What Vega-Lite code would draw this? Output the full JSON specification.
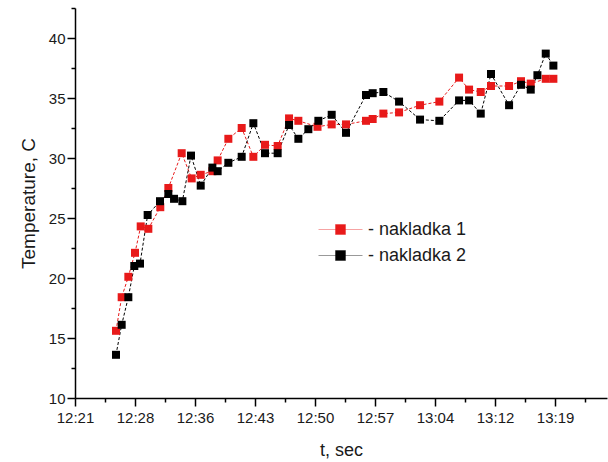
{
  "$schema": "https://vega.github.io/schema/vega-lite/v6.json",
  "width": 532,
  "height": 390,
  "autosize": {"type": "none"},
  "padding": {"left": 75, "top": 8, "right": 1, "bottom": 64},
  "background": "white",
  "config": {
    "view": {"stroke": null},
    "font": "Liberation Sans",
    "axis": {
      "grid": false,
      "domainColor": "#000000",
      "domainWidth": 1.5,
      "tickColor": "#000000",
      "tickWidth": 1.5,
      "labelColor": "#1a1a1a",
      "labelFontSize": 14,
      "labelFont": "Liberation Sans",
      "titleFont": "Liberation Sans",
      "titleFontSize": 17,
      "titleFontWeight": "normal",
      "titleColor": "#1a1a1a"
    }
  },
  "data": {
    "format": {"parse": {"t": "date:'%H:%M:%S'"}},
    "values": [
      {"series": "nakladka 1", "t": "12:26:31", "temp": 15.6},
      {"series": "nakladka 1", "t": "12:27:12", "temp": 18.4},
      {"series": "nakladka 1", "t": "12:28:00", "temp": 20.1},
      {"series": "nakladka 1", "t": "12:28:48", "temp": 22.1},
      {"series": "nakladka 1", "t": "12:29:29", "temp": 24.3},
      {"series": "nakladka 1", "t": "12:30:24", "temp": 24.1},
      {"series": "nakladka 1", "t": "12:31:50", "temp": 25.9},
      {"series": "nakladka 1", "t": "12:32:48", "temp": 27.5},
      {"series": "nakladka 1", "t": "12:34:24", "temp": 30.4},
      {"series": "nakladka 1", "t": "12:35:36", "temp": 28.3},
      {"series": "nakladka 1", "t": "12:36:41", "temp": 28.6},
      {"series": "nakladka 1", "t": "12:38:05", "temp": 28.9},
      {"series": "nakladka 1", "t": "12:38:43", "temp": 29.8},
      {"series": "nakladka 1", "t": "12:40:00", "temp": 31.6},
      {"series": "nakladka 1", "t": "12:41:36", "temp": 32.5},
      {"series": "nakladka 1", "t": "12:43:00", "temp": 30.1},
      {"series": "nakladka 1", "t": "12:44:24", "temp": 31.1},
      {"series": "nakladka 1", "t": "12:45:55", "temp": 31.0},
      {"series": "nakladka 1", "t": "12:47:17", "temp": 33.3},
      {"series": "nakladka 1", "t": "12:48:24", "temp": 33.1},
      {"series": "nakladka 1", "t": "12:50:42", "temp": 32.6},
      {"series": "nakladka 1", "t": "12:52:24", "temp": 32.8},
      {"series": "nakladka 1", "t": "12:54:07", "temp": 32.8},
      {"series": "nakladka 1", "t": "12:56:31", "temp": 33.1},
      {"series": "nakladka 1", "t": "12:57:19", "temp": 33.25},
      {"series": "nakladka 1", "t": "12:58:36", "temp": 33.7},
      {"series": "nakladka 1", "t": "13:00:29", "temp": 33.8},
      {"series": "nakladka 1", "t": "13:03:00", "temp": 34.4},
      {"series": "nakladka 1", "t": "13:05:19", "temp": 34.7},
      {"series": "nakladka 1", "t": "13:07:41", "temp": 36.7},
      {"series": "nakladka 1", "t": "13:08:53", "temp": 35.7},
      {"series": "nakladka 1", "t": "13:10:17", "temp": 35.5},
      {"series": "nakladka 1", "t": "13:11:31", "temp": 36.0},
      {"series": "nakladka 1", "t": "13:13:41", "temp": 36.0},
      {"series": "nakladka 1", "t": "13:15:07", "temp": 36.4},
      {"series": "nakladka 1", "t": "13:16:17", "temp": 36.2},
      {"series": "nakladka 1", "t": "13:18:05", "temp": 36.6},
      {"series": "nakladka 1", "t": "13:19:00", "temp": 36.6},
      {"series": "nakladka 2", "t": "12:26:31", "temp": 13.6},
      {"series": "nakladka 2", "t": "12:27:12", "temp": 16.1},
      {"series": "nakladka 2", "t": "12:28:00", "temp": 18.4},
      {"series": "nakladka 2", "t": "12:28:43", "temp": 21.0},
      {"series": "nakladka 2", "t": "12:29:24", "temp": 21.2},
      {"series": "nakladka 2", "t": "12:30:19", "temp": 25.25},
      {"series": "nakladka 2", "t": "12:31:48", "temp": 26.4},
      {"series": "nakladka 2", "t": "12:32:48", "temp": 27.0},
      {"series": "nakladka 2", "t": "12:33:29", "temp": 26.6},
      {"series": "nakladka 2", "t": "12:34:29", "temp": 26.4},
      {"series": "nakladka 2", "t": "12:35:31", "temp": 30.2},
      {"series": "nakladka 2", "t": "12:36:41", "temp": 27.7},
      {"series": "nakladka 2", "t": "12:38:05", "temp": 29.2},
      {"series": "nakladka 2", "t": "12:38:43", "temp": 28.9},
      {"series": "nakladka 2", "t": "12:40:00", "temp": 29.6},
      {"series": "nakladka 2", "t": "12:41:36", "temp": 30.1},
      {"series": "nakladka 2", "t": "12:43:00", "temp": 32.9},
      {"series": "nakladka 2", "t": "12:44:24", "temp": 30.4},
      {"series": "nakladka 2", "t": "12:45:55", "temp": 30.4},
      {"series": "nakladka 2", "t": "12:47:17", "temp": 32.75},
      {"series": "nakladka 2", "t": "12:48:24", "temp": 31.6},
      {"series": "nakladka 2", "t": "12:49:36", "temp": 32.4},
      {"series": "nakladka 2", "t": "12:50:48", "temp": 33.1},
      {"series": "nakladka 2", "t": "12:52:24", "temp": 33.6},
      {"series": "nakladka 2", "t": "12:54:07", "temp": 32.1},
      {"series": "nakladka 2", "t": "12:56:31", "temp": 35.25},
      {"series": "nakladka 2", "t": "12:57:19", "temp": 35.4},
      {"series": "nakladka 2", "t": "12:58:36", "temp": 35.5},
      {"series": "nakladka 2", "t": "13:00:29", "temp": 34.7},
      {"series": "nakladka 2", "t": "13:03:00", "temp": 33.2},
      {"series": "nakladka 2", "t": "13:05:19", "temp": 33.1},
      {"series": "nakladka 2", "t": "13:07:41", "temp": 34.8},
      {"series": "nakladka 2", "t": "13:08:53", "temp": 34.8},
      {"series": "nakladka 2", "t": "13:10:17", "temp": 33.7},
      {"series": "nakladka 2", "t": "13:11:31", "temp": 37.0},
      {"series": "nakladka 2", "t": "13:13:41", "temp": 34.4},
      {"series": "nakladka 2", "t": "13:15:07", "temp": 36.1},
      {"series": "nakladka 2", "t": "13:16:17", "temp": 35.7},
      {"series": "nakladka 2", "t": "13:17:05", "temp": 36.9},
      {"series": "nakladka 2", "t": "13:18:05", "temp": 38.7},
      {"series": "nakladka 2", "t": "13:19:00", "temp": 37.7}
    ]
  },
  "encoding": {
    "x": {
      "field": "t",
      "type": "temporal",
      "title": "t, sec",
      "scale": {
        "domain": [
          {"year": 1900, "month": 1, "date": 1, "hours": 12, "minutes": 21, "seconds": 36},
          {"year": 1900, "month": 1, "date": 1, "hours": 13, "minutes": 25, "seconds": 26}
        ]
      },
      "axis": {
        "format": "%H:%M",
        "values": [
          {"year": 1900, "month": 1, "date": 1, "hours": 12, "minutes": 21, "seconds": 36},
          {"year": 1900, "month": 1, "date": 1, "hours": 12, "minutes": 25, "seconds": 12},
          {"year": 1900, "month": 1, "date": 1, "hours": 12, "minutes": 28, "seconds": 48},
          {"year": 1900, "month": 1, "date": 1, "hours": 12, "minutes": 32, "seconds": 24},
          {"year": 1900, "month": 1, "date": 1, "hours": 12, "minutes": 36, "seconds": 0},
          {"year": 1900, "month": 1, "date": 1, "hours": 12, "minutes": 39, "seconds": 36},
          {"year": 1900, "month": 1, "date": 1, "hours": 12, "minutes": 43, "seconds": 12},
          {"year": 1900, "month": 1, "date": 1, "hours": 12, "minutes": 46, "seconds": 48},
          {"year": 1900, "month": 1, "date": 1, "hours": 12, "minutes": 50, "seconds": 24},
          {"year": 1900, "month": 1, "date": 1, "hours": 12, "minutes": 54, "seconds": 0},
          {"year": 1900, "month": 1, "date": 1, "hours": 12, "minutes": 57, "seconds": 36},
          {"year": 1900, "month": 1, "date": 1, "hours": 13, "minutes": 1, "seconds": 12},
          {"year": 1900, "month": 1, "date": 1, "hours": 13, "minutes": 4, "seconds": 48},
          {"year": 1900, "month": 1, "date": 1, "hours": 13, "minutes": 8, "seconds": 24},
          {"year": 1900, "month": 1, "date": 1, "hours": 13, "minutes": 12, "seconds": 0},
          {"year": 1900, "month": 1, "date": 1, "hours": 13, "minutes": 15, "seconds": 36},
          {"year": 1900, "month": 1, "date": 1, "hours": 13, "minutes": 19, "seconds": 12},
          {"year": 1900, "month": 1, "date": 1, "hours": 13, "minutes": 22, "seconds": 48}
        ],
        "labelExpr": "round(((hours(datum.value)*3600+minutes(datum.value)*60+seconds(datum.value))-44496)/216) % 2 == 0 ? datum.label : ''",
        "tickSize": {
          "condition": {"test": "round(((hours(datum.value)*3600+minutes(datum.value)*60+seconds(datum.value))-44496)/216) % 2 == 0", "value": 8},
          "value": 4
        },
        "labelFontSize": 15,
        "labelPadding": 4,
        "labelFlush": false,
        "labelOverlap": false,
        "titleFontSize": 18,
        "titlePadding": 16
      }
    },
    "y": {
      "field": "temp",
      "type": "quantitative",
      "title": "Temperature, C",
      "scale": {"domain": [10, 42.5], "nice": false, "zero": false},
      "axis": {
        "values": [10, 12.5, 15, 17.5, 20, 22.5, 25, 27.5, 30, 32.5, 35, 37.5, 40, 42.5],
        "labelExpr": "datum.value % 5 == 0 ? datum.label : ''",
        "tickSize": {"condition": {"test": "datum.value % 5 == 0", "value": 8}, "value": 4},
        "labelFontSize": 15,
        "labelPadding": 2,
        "labelFlush": false,
        "labelOverlap": false,
        "titleFontSize": 19,
        "titlePadding": 10
      }
    },
    "color": {
      "field": "series",
      "type": "nominal",
      "scale": {"domain": ["nakladka 1", "nakladka 2"], "range": ["#e81a1a", "#000000"]},
      "legend": {
        "title": null,
        "orient": "none",
        "legendX": 255,
        "legendY": 211,
        "padding": 0,
        "symbolType": "M-2.2,0H2.2M-0.5,-0.5H0.5V0.5H-0.5Z",
        "symbolSize": 400,
        "symbolStrokeWidth": 1,
        "symbolDash": [],
        "labelFontSize": 18,
        "labelFont": "Liberation Sans",
        "labelColor": "#1a1a1a",
        "labelOffset": 17,
        "rowPadding": 6,
        "labelExpr": "'- ' + datum.label",
        "encode": {
          "symbols": {
            "update": {
              "fill": {"scale": "color", "field": "value"},
              "stroke": {"scale": "color", "field": "value"},
              "strokeOpacity": {"value": 0.4},
              "fillOpacity": {"value": 1},
              "opacity": {"value": 1}
            }
          }
        }
      }
    }
  },
  "layer": [
    {"mark": {"type": "line", "strokeWidth": 1, "strokeDash": [3, 2]}},
    {"mark": {"type": "point", "shape": "square", "filled": true, "size": 64, "opacity": 1}}
  ]
}
